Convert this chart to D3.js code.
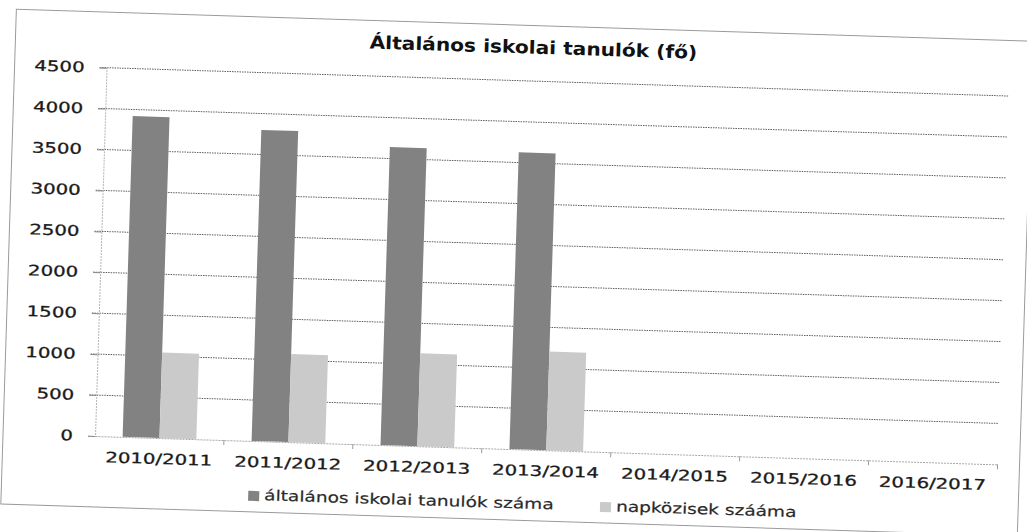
<!DOCTYPE html>
<html lang="hu">
<head>
<meta charset="utf-8">
<script src="https://d3js.org/d3.v7.min.js"></script>
<style>
  body { margin: 0; background: #fff; }
  svg { display: block; }
  .tick text { font-family: "DejaVu Sans", sans-serif; font-size: 14.5px; fill: #1a1a1a; stroke: #1a1a1a; stroke-width: 0.3px; }
  .title { font-family: "DejaVu Sans", sans-serif; font-weight: bold; font-size: 18px; fill: #111; }
  .legend text { font-family: "DejaVu Sans", sans-serif; font-size: 14.5px; fill: #2a2a2a; stroke: #2a2a2a; stroke-width: 0.2px; }
  .grid line { stroke: #5f5f5f; stroke-width: 1; stroke-dasharray: 1.5,1; }
</style>
</head>
<body>
<svg width="1027" height="532"></svg>
<script>

// chart values
var years = ["2010/2011", "2011/2012", "2012/2013", "2013/2014", "2014/2015", "2015/2016", "2016/2017"];
var seriesNames = ["általános iskolai tanulók száma", "napközisek szááma"];
var tanulok = [3920, 3800, 3640, 3625, null, null, null];
var napkozis = [1045, 1075, 1135, 1205, null, null, null];
var yTicks = [0, 500, 1000, 1500, 2000, 2500, 3000, 3500, 4000, 4500];
var chartTitle = "Általános iskolai tanulók (fő)";

var colors = ["#828282", "#cacaca"];
var sx = 1.36;      // the scan is stretched sideways, so text is too
var sxLegend = 1.28;

var svg = d3.select("svg");

// the scan sits a little crooked on the page
var page = svg.append("g").attr("transform", "rotate(1.8, 95, 436)");

page.append("rect")
    .attr("x", 3).attr("y", 12)
    .attr("width", 1017).attr("height", 495)
    .attr("fill", "none")
    .attr("stroke", "#9a9a9a")
    .attr("stroke-width", 1);

var plotLeft = 95, plotRight = 998, plotTop = 67.5, plotBottom = 436;

var x = d3.scaleBand().domain(years).range([plotLeft, plotRight]).paddingInner(0).paddingOuter(0);
var x1 = d3.scaleBand().domain([0, 1]).range([0, x.bandwidth()]).paddingInner(0).paddingOuter(0.75);
var y = d3.scaleLinear().domain([0, 4500]).range([plotBottom, plotTop]);

// horizontal gridlines
page.append("g")
    .attr("class", "grid")
  .selectAll("line")
  .data(yTicks.filter(function(d) { return d > 0; }))
  .enter().append("line")
    .attr("x1", plotLeft - 7).attr("x2", plotRight)
    .attr("y1", function(d) { return y(d); })
    .attr("y2", function(d) { return y(d); });

// y axis
var yAxis = page.append("g")
    .attr("transform", "translate(" + plotLeft + ",0)")
    .call(d3.axisLeft(y).tickValues(yTicks).tickFormat(d3.format("d")).tickSize(7).tickPadding(16));
yAxis.select(".domain").attr("stroke", "#b5b5b5").attr("stroke-dasharray", "2,1");
yAxis.selectAll(".tick line").attr("stroke", "#8a8a8a");
yAxis.selectAll(".tick text")
    .attr("x", -22 / sx)
    .attr("transform", "scale(" + sx + ",1)");

// bars
var rows = years.map(function(d, i) { return { year: d, values: [tanulok[i], napkozis[i]] }; });

var groups = page.append("g").selectAll("g")
  .data(rows)
  .enter().append("g")
    .attr("transform", function(d) { return "translate(" + x(d.year) + ",0)"; });

groups.selectAll("rect")
  .data(function(d) { return d.values.map(function(v, k) { return { k: k, v: v }; }).filter(function(e) { return e.v != null; }); })
  .enter().append("rect")
    .attr("x", function(d) { return x1(d.k); })
    .attr("width", x1.bandwidth())
    .attr("y", function(d) { return y(d.v); })
    .attr("height", function(d) { return y(0) - y(d.v); })
    .attr("fill", function(d) { return colors[d.k]; });

// x axis
var xAxis = page.append("g")
    .attr("transform", "translate(0," + plotBottom + ")")
    .call(d3.axisBottom(x).tickSize(0).tickPadding(0));
xAxis.select(".domain").attr("stroke", "#a8a8a8").attr("stroke-dasharray", "2,1");
xAxis.selectAll(".tick text")
    .attr("y", 26).attr("dy", 0)
    .attr("transform", "scale(" + sx + ",1)")
    .attr("x", 0);
// Excel style ticks between categories
page.append("g").selectAll("line")
  .data(years.slice(1).concat(["end"]))
  .enter().append("line")
    .attr("x1", function(d) { return d === "end" ? plotRight : x(d); })
    .attr("x2", function(d) { return d === "end" ? plotRight : x(d); })
    .attr("y1", plotBottom).attr("y2", plotBottom + 5)
    .attr("stroke", "#9a9a9a");

// title
page.append("text")
    .attr("class", "title")
    .attr("text-anchor", "middle")
    .attr("transform", "translate(521,40) scale(1.12,1)")
    .text(chartTitle);

// legend
var legendX = [250, 602];
var legend = page.append("g").attr("class", "legend");
var item = legend.selectAll("g")
  .data(seriesNames)
  .enter().append("g")
    .attr("transform", function(d, i) { return "translate(" + legendX[i] + ",486)"; });
item.append("rect")
    .attr("width", 11).attr("height", 10)
    .attr("fill", function(d, i) { return colors[i]; });
item.append("text")
    .attr("transform", "translate(16,9) scale(" + sxLegend + ",1)")
    .text(function(d) { return d; });

</script>
</body>
</html>
